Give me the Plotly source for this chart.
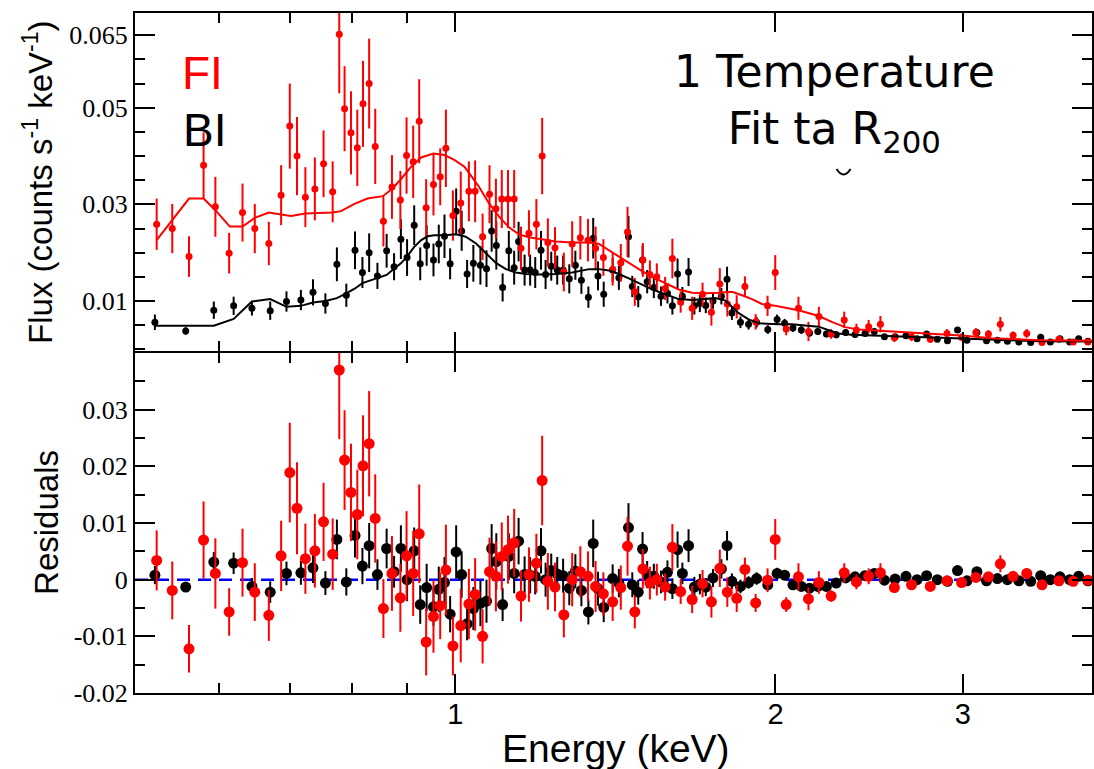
import math
import plotly.graph_objects as go

# ---------------- data ----------------
fi_energy = [0.524,0.542,0.562,0.580,0.595,0.613,0.631,0.648,0.668,0.686,0.699,0.710,0.723,0.738,0.752,0.767,0.778,0.787,0.798,0.809,
             0.819,0.830,0.841,0.856,0.872,0.888,0.900,0.913,0.925,0.939,0.954,0.968,0.980,0.995,1.012,1.030,1.044,1.061,1.077,1.092,
             1.106,1.121,1.136,1.153,1.173,1.192,1.207,1.222,1.241,1.265,1.288,1.311,1.333,1.355,1.378,1.406,1.431,1.452,1.475,1.501,
             1.524,1.547,1.575,1.600,1.629,1.670,1.708,1.741,1.773,1.802,1.839,1.872,1.916,1.966,1.999,2.047,2.102,2.148,2.197,2.256,
             2.321,2.383,2.447,2.510,2.587,2.685,2.796,2.899,2.992,3.086,3.171,3.254,3.345,3.445,3.561,3.694,3.810,3.933]
fi_flux = [0.0259,0.0250,0.0192,0.0381,0.0295,0.0199,0.0283,0.0250,0.0219,0.0319,0.0462,0.0400,0.0315,0.0332,0.0384,0.0326,0.0652,0.0498,0.0448,0.0417,
           0.0508,0.0550,0.0420,0.0265,0.0336,0.0309,0.0401,0.0388,0.0472,0.0293,0.0341,0.0357,0.0416,0.0277,0.0303,0.0327,0.0327,0.0233,0.0321,0.0291,
           0.0311,0.0311,0.0311,0.0209,0.0240,0.0259,0.0400,0.0221,0.0210,0.0160,0.0218,0.0231,0.0226,0.0209,0.0190,0.0166,0.0179,0.0243,0.0119,0.0185,
           0.0155,0.0150,0.0126,0.0188,0.0098,0.0085,0.0114,0.0077,0.0135,0.0094,0.0088,0.0130,0.0057,0.0090,0.0159,0.0042,0.0085,0.0037,0.0068,0.0032,
           0.0061,0.0040,0.0047,0.0052,0.0024,0.0026,0.0021,0.0033,0.0025,0.0035,0.0032,0.0052,0.0029,0.0033,0.0014,0.0021,0.0015,0.0015]
fi_err = [0.0053,0.0051,0.0042,0.0068,0.0062,0.0042,0.0060,0.0051,0.0045,0.0062,0.0088,0.0081,0.0062,0.0065,0.0069,0.0063,0.0122,0.0088,0.0086,0.0079,
          0.0089,0.0093,0.0078,0.0052,0.0066,0.0060,0.0079,0.0075,0.0087,0.0059,0.0064,0.0059,0.0080,0.0052,0.0065,0.0062,0.0064,0.0048,0.0060,0.0062,
          0.0060,0.0060,0.0060,0.0045,0.0048,0.0052,0.0079,0.0050,0.0043,0.0040,0.0047,0.0045,0.0044,0.0045,0.0038,0.0034,0.0039,0.0052,0.0029,0.0035,
          0.0029,0.0028,0.0024,0.0041,0.0022,0.0024,0.0024,0.0028,0.0033,0.0026,0.0024,0.0021,0.0016,0.0021,0.0036,0.0013,0.0024,0.0020,0.0020,0.0010,
          0.0017,0.0013,0.0014,0.0017,0.0009,0.0009,0.0008,0.0009,0.0008,0.0009,0.0008,0.0015,0.0008,0.0009,0.0007,0.0007,0.0006,0.0006]
fi_resid = [0.0034,-0.0019,-0.0122,0.0070,0.0011,-0.0057,0.0030,-0.0022,-0.0063,0.0042,0.0189,0.0126,0.0037,0.0051,0.0102,0.0045,0.0370,0.0211,0.0154,0.0115,
            0.0201,0.0240,0.0108,-0.0051,0.0011,-0.0032,0.0042,0.0011,0.0081,-0.0110,-0.0065,-0.0046,0.0017,-0.0117,-0.0081,-0.0043,-0.0026,-0.0100,0.0014,0.0006,
            0.0041,0.0053,0.0065,-0.0029,0.0009,0.0029,0.0175,-0.0003,-0.0013,-0.0062,0.0000,0.0014,0.0006,-0.0012,-0.0025,-0.0039,-0.0014,0.0059,-0.0057,0.0019,
            -0.0006,0.0000,-0.0013,0.0057,-0.0021,-0.0035,-0.0007,-0.0039,0.0020,-0.0022,-0.0033,0.0018,-0.0041,-0.0001,0.0071,-0.0044,0.0005,-0.0034,-0.0005,-0.0029,
            0.0012,-0.0004,0.0006,0.0012,-0.0014,-0.0009,-0.0012,-0.0002,-0.0005,0.0004,0.0005,0.0028,0.0006,0.0011,-0.0009,-0.0002,-0.0003,-0.0001]

bi_energy = [0.522,0.558,0.593,0.619,0.644,0.670,0.694,0.716,0.735,0.755,0.774,0.790,0.805,0.818,0.830,0.845,0.862,0.876,0.889,0.901,
             0.915,0.927,0.940,0.954,0.965,0.977,0.989,1.002,1.014,1.026,1.040,1.056,1.070,1.082,1.093,1.108,1.123,1.136,1.147,1.162,
             1.176,1.189,1.204,1.216,1.231,1.247,1.263,1.280,1.297,1.314,1.334,1.348,1.362,1.379,1.406,1.425,1.455,1.467,1.486,1.500,
             1.515,1.537,1.561,1.583,1.600,1.618,1.635,1.657,1.678,1.698,1.720,1.747,1.779,1.801,1.820,1.854,1.887,1.920,1.967,2.007,
             2.040,2.077,2.115,2.153,2.192,2.233,2.281,2.328,2.376,2.428,2.477,2.532,2.591,2.653,2.717,2.774,2.839,2.902,2.966,3.027,
             3.093,3.158,3.233,3.304,3.387,3.475,3.551,3.626,3.702,3.781,3.855,3.933]
bi_flux = [0.0056,0.0038,0.0081,0.0090,0.0085,0.0080,0.0099,0.0102,0.0118,0.0095,0.0176,0.0112,0.0205,0.0159,0.0200,0.0152,0.0204,0.0171,0.0228,0.0190,
           0.0257,0.0177,0.0215,0.0185,0.0218,0.0234,0.0177,0.0286,0.0245,0.0156,0.0178,0.0174,0.0167,0.0245,0.0215,0.0128,0.0204,0.0169,0.0223,0.0164,
           0.0164,0.0159,0.0205,0.0155,0.0172,0.0164,0.0164,0.0146,0.0174,0.0143,0.0108,0.0230,0.0152,0.0114,0.0164,0.0148,0.0233,0.0130,0.0109,0.0185,
           0.0140,0.0128,0.0110,0.0116,0.0090,0.0156,0.0110,0.0160,0.0090,0.0095,0.0091,0.0100,0.0110,0.0145,0.0075,0.0056,0.0052,0.0056,0.0041,0.0062,
           0.0054,0.0044,0.0040,0.0034,0.0037,0.0032,0.0030,0.0035,0.0031,0.0033,0.0037,0.0026,0.0026,0.0028,0.0022,0.0032,0.0021,0.0018,0.0040,0.0019,
           0.0035,0.0018,0.0019,0.0017,0.0015,0.0014,0.0025,0.0015,0.0022,0.0015,0.0022,0.0017]
bi_err = [0.0016,0.0008,0.0018,0.0019,0.0015,0.0019,0.0021,0.0021,0.0027,0.0021,0.0035,0.0024,0.0039,0.0032,0.0040,0.0027,0.0035,0.0028,0.0041,0.0038,
          0.0041,0.0034,0.0042,0.0034,0.0040,0.0045,0.0032,0.0047,0.0041,0.0029,0.0038,0.0040,0.0038,0.0043,0.0050,0.0029,0.0041,0.0035,0.0041,0.0032,
          0.0032,0.0032,0.0040,0.0030,0.0030,0.0030,0.0030,0.0030,0.0030,0.0028,0.0022,0.0042,0.0030,0.0026,0.0025,0.0025,0.0043,0.0022,0.0022,0.0030,
          0.0024,0.0022,0.0020,0.0021,0.0018,0.0032,0.0019,0.0029,0.0018,0.0018,0.0016,0.0016,0.0017,0.0026,0.0014,0.0012,0.0011,0.0011,0.0009,0.0010,
          0.0009,0.0008,0.0008,0.0008,0.0007,0.0007,0.0007,0.0007,0.0006,0.0006,0.0006,0.0006,0.0006,0.0005,0.0005,0.0005,0.0005,0.0005,0.0005,0.0005,
          0.0005,0.0004,0.0004,0.0004,0.0004,0.0004,0.0004,0.0004,0.0004,0.0004,0.0004,0.0004]
bi_resid = [0.0008,-0.0013,0.0031,0.0029,-0.0012,-0.0022,0.0011,0.0012,0.0021,-0.0006,0.0071,-0.0004,0.0078,0.0024,0.0060,0.0009,0.0055,0.0014,0.0055,0.0000,
            0.0051,-0.0044,-0.0014,-0.0048,-0.0017,-0.0005,-0.0061,0.0049,0.0009,-0.0078,-0.0051,-0.0042,-0.0038,0.0055,0.0032,-0.0044,0.0041,0.0011,0.0068,0.0009,
            0.0008,0.0006,0.0051,0.0000,0.0016,0.0010,0.0007,-0.0015,0.0015,-0.0019,-0.0057,0.0064,-0.0016,-0.0049,0.0002,-0.0006,0.0092,-0.0009,-0.0022,0.0054,
            0.0009,0.0006,-0.0004,0.0013,-0.0016,0.0053,0.0011,0.0060,-0.0013,-0.0008,-0.0013,0.0003,0.0019,0.0060,-0.0003,-0.0012,-0.0005,0.0002,-0.0009,0.0011,
            0.0008,-0.0009,-0.0012,-0.0015,-0.0012,-0.0012,-0.0006,0.0003,0.0005,0.0007,0.0011,-0.0001,0.0001,0.0006,0.0000,0.0007,0.0000,-0.0003,0.0016,-0.0002,
            0.0014,-0.0002,0.0002,0.0000,-0.0002,-0.0003,0.0007,0.0000,0.0005,0.0000,0.0006,-0.0002]

fi_model_energy = [0.524,0.542,0.562,0.580,0.595,0.614,0.631,0.648,0.668,0.686,0.701,0.723,0.767,0.781,0.804,0.827,0.855,0.873,0.889,0.909,
                   0.929,0.954,0.977,0.998,1.020,1.031,1.053,1.076,1.100,1.124,1.148,1.173,1.199,1.243,1.288,1.336,1.365,1.395,1.425,1.456,
                   1.488,1.531,1.576,1.622,1.670,1.719,1.769,1.820,1.860,1.901,1.942,1.999,2.102,2.197,2.259,2.325,2.393,2.481,2.609,2.764,
                   2.907,3.014,3.192,3.333,3.556,3.968]
fi_model_flux = [0.0226,0.0268,0.0312,0.0312,0.0288,0.0254,0.0254,0.0272,0.0283,0.0279,0.0276,0.0281,0.0283,0.0286,0.0301,0.0312,0.0317,0.0333,0.0352,0.0378,
                 0.0397,0.0405,0.0402,0.0392,0.0378,0.0364,0.0336,0.0302,0.0274,0.0252,0.0238,0.0232,0.0228,0.0223,0.0221,0.0221,0.0218,0.0205,0.0192,0.0178,
                 0.0166,0.0150,0.0137,0.0124,0.0117,0.0116,0.0117,0.0119,0.0112,0.0104,0.0094,0.0090,0.0081,0.0069,0.0057,0.0046,0.0041,0.0039,0.0037,0.0033,
                 0.0031,0.0028,0.0023,0.0021,0.0019,0.0018]
bi_model_energy = [0.522,0.557,0.593,0.619,0.644,0.670,0.694,0.716,0.735,0.755,0.774,0.790,0.805,0.818,0.845,0.862,0.877,0.889,0.901,0.915,
                   0.929,0.942,0.956,0.977,1.002,1.023,1.046,1.069,1.092,1.116,1.140,1.165,1.199,1.243,1.288,1.336,1.365,1.395,1.425,1.456,
                   1.488,1.531,1.576,1.622,1.670,1.719,1.756,1.795,1.820,1.847,1.887,1.928,2.013,2.072,2.195,2.243,2.292,2.359,2.481,2.666,
                   2.865,3.079,3.309,3.556,3.968]
bi_model_flux = [0.0049,0.0049,0.0049,0.0063,0.0099,0.0104,0.0088,0.0090,0.0097,0.0100,0.0106,0.0116,0.0126,0.0137,0.0147,0.0154,0.0168,0.0178,0.0192,0.0212,
                 0.0226,0.0234,0.0236,0.0236,0.0238,0.0233,0.0219,0.0199,0.0179,0.0166,0.0159,0.0156,0.0155,0.0156,0.0159,0.0166,0.0166,0.0163,0.0156,0.0147,
                 0.0137,0.0124,0.0114,0.0104,0.0102,0.0105,0.0106,0.0101,0.0088,0.0075,0.0062,0.0054,0.0052,0.0052,0.0047,0.0040,0.0033,0.0030,0.0028,0.0026,
                 0.0024,0.0021,0.0019,0.0017,0.0016]

x_tick_vals = [1, 2, 3]
x_tick_text = ["1", "2", "3"]
x_minor_vals = [0.6, 0.7, 0.8, 0.9]
flux_tick_vals = [0.01, 0.03, 0.05, 0.065]
flux_tick_text = ["0.01", "0.03", "0.05", "0.065"]
flux_minor_vals = [0.0, 0.005, 0.015, 0.02, 0.025, 0.035, 0.04, 0.045, 0.055, 0.06]
res_tick_vals = [-0.02, -0.01, 0.0, 0.01, 0.02, 0.03]
res_tick_text = ["-0.02", "-0.01", "0", "0.01", "0.02", "0.03"]
res_minor_vals = [-0.015, -0.005, 0.005, 0.015, 0.025, 0.035]

RED = "#ff0000"
BLACK = "#000000"

fig = go.Figure()

# ---- top panel: spectra ----
fig.add_trace(go.Scatter(x=bi_energy, y=bi_flux, mode="markers", xaxis="x2", yaxis="y2",
                         marker=dict(color=BLACK, size=7),
                         error_y=dict(type="data", array=bi_err, thickness=2, width=0, color=BLACK)))
fig.add_trace(go.Scatter(x=fi_energy, y=fi_flux, mode="markers", xaxis="x2", yaxis="y2",
                         marker=dict(color=RED, size=7),
                         error_y=dict(type="data", array=fi_err, thickness=2, width=0, color=RED)))
fig.add_trace(go.Scatter(x=bi_model_energy, y=bi_model_flux, mode="lines", xaxis="x2", yaxis="y2",
                         line=dict(color=BLACK, width=2)))
fig.add_trace(go.Scatter(x=fi_model_energy, y=fi_model_flux, mode="lines", xaxis="x2", yaxis="y2",
                         line=dict(color=RED, width=2)))

# ---- bottom panel: residuals ----
fig.add_trace(go.Scatter(x=bi_energy, y=bi_resid, mode="markers", xaxis="x", yaxis="y",
                         marker=dict(color=BLACK, size=11),
                         error_y=dict(type="data", array=bi_err, thickness=2, width=0, color=BLACK)))
fig.add_trace(go.Scatter(x=fi_energy, y=fi_resid, mode="markers", xaxis="x", yaxis="y",
                         marker=dict(color=RED, size=11),
                         error_y=dict(type="data", array=fi_err, thickness=2, width=0, color=RED)))

xrange = [math.log10(0.5), math.log10(3.968)]
common_x = dict(type="log", range=xrange, tickmode="array", tickvals=x_tick_vals, ticktext=x_tick_text,
                ticks="inside", ticklen=19, tickwidth=2, tickcolor=BLACK,
                minor=dict(tickmode="array", tickvals=x_minor_vals, ticks="inside", ticklen=10, tickwidth=2, tickcolor=BLACK),
                showline=True, linewidth=2, linecolor=BLACK, mirror="ticks",
                showgrid=False, zeroline=False,
                tickfont=dict(family="Liberation Sans, Arial, sans-serif", size=29, color=BLACK))
common_y = dict(ticks="inside", ticklen=20, tickwidth=2, tickcolor=BLACK,
                showline=True, linewidth=2, linecolor=BLACK, mirror="ticks",
                showgrid=False, zeroline=False,
                tickfont=dict(family="Liberation Serif, Times New Roman, serif", size=26, color=BLACK))

top_dom0 = 0.5 + 2.0 / 680.0

fig.update_layout(
    width=1094, height=769,
    margin=dict(l=135, r=0, t=13, b=76),
    paper_bgcolor="white", plot_bgcolor="white",
    showlegend=False,
    xaxis=dict(domain=[0, 1], anchor="y", ticklabelstandoff=-6, **common_x),
    xaxis2=dict(domain=[0, 1], anchor="y2", matches="x", showticklabels=False, **common_x),
    yaxis=dict(domain=[0, 0.5], anchor="x", range=[-0.02, 0.04], tickmode="array",
               tickvals=res_tick_vals, ticktext=res_tick_text,
               minor=dict(tickmode="array", tickvals=res_minor_vals, ticks="inside", ticklen=10, tickwidth=2, tickcolor=BLACK),
               **common_y),
    yaxis2=dict(domain=[top_dom0, 1], anchor="x2", range=[-0.00034, 0.0696], tickmode="array",
                tickvals=flux_tick_vals, ticktext=flux_tick_text,
                minor=dict(tickmode="array", tickvals=flux_minor_vals, ticks="inside", ticklen=10, tickwidth=2, tickcolor=BLACK),
                **common_y),
)

# zero line in residual panel
fig.add_shape(type="line", xref="x domain", yref="y", x0=0, x1=1, y0=0, y1=0,
              line=dict(color="#0000ff", width=2.5, dash="13px,8px"), layer="below")

# small hook glyph under the title text
fig.add_shape(type="path", xref="paper", yref="paper",
              path="M 0.7331,0.7706 Q 0.7404,0.7544 0.7477,0.7706",
              line=dict(color=BLACK, width=2))

sans = "Liberation Sans, Arial, sans-serif"
fig.add_annotation(xref="paper", yref="paper", x=-0.1014, y=0.7515, text="Flux (counts s<sup>-1</sup> keV<sup>-1</sup>)",
                   textangle=-90, showarrow=False, xanchor="center", yanchor="middle",
                   font=dict(family=sans, size=33, color=BLACK))
fig.add_annotation(xref="paper", yref="paper", x=-0.092, y=0.2515, text="Residuals",
                   textangle=-90, showarrow=False, xanchor="center", yanchor="middle",
                   font=dict(family=sans, size=33, color=BLACK))
fig.add_annotation(xref="paper", yref="paper", x=0.503, y=-0.081, text="Energy (keV)",
                   showarrow=False, xanchor="center", yanchor="middle",
                   font=dict(family=sans, size=39, color=BLACK))
narrow = "Liberation Sans Narrow, Arial Narrow, Liberation Sans, sans-serif"
fig.add_annotation(xref="paper", yref="paper", x=0.071, y=0.912, text="FI", showarrow=False,
                   xanchor="center", yanchor="middle", font=dict(family=narrow, size=46, color=RED))
fig.add_annotation(xref="paper", yref="paper", x=0.073, y=0.828, text="BI", showarrow=False,
                   xanchor="center", yanchor="middle", font=dict(family=narrow, size=46, color=BLACK))
fig.add_annotation(xref="paper", yref="paper", x=0.731, y=0.8676, text="1 Temperature<br>Fit ta R<sub>200</sub>",
                   showarrow=False, xanchor="center", yanchor="middle", align="center",
                   font=dict(family="DejaVu Sans, Noto Sans, sans-serif", size=44, color=BLACK))

fig.write_html("out.html")
